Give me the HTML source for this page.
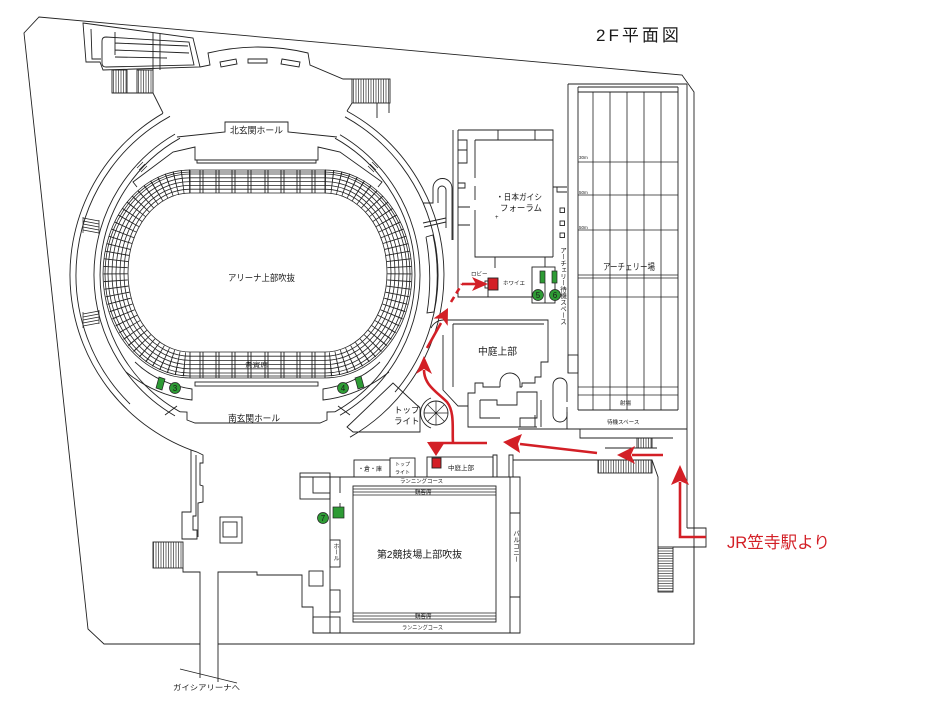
<!DOCTYPE html>
<html><head><meta charset="utf-8"><style>
html,body{margin:0;padding:0;background:#fff;width:950px;height:706px;overflow:hidden}
svg{display:block}
text{font-family:"Liberation Sans","Noto Sans CJK JP",sans-serif;fill:#1a1a1a;stroke:none}
</style></head><body>
<svg width="950" height="706" viewBox="0 0 950 706" xmlns="http://www.w3.org/2000/svg">
<defs>
<pattern id="vh" width="2.5" height="10" patternUnits="userSpaceOnUse"><line x1="1" y1="0" x2="1" y2="10" stroke="#333" stroke-width="0.7"/></pattern>
<pattern id="hh" width="10" height="2.5" patternUnits="userSpaceOnUse"><line x1="0" y1="1" x2="10" y2="1" stroke="#333" stroke-width="0.7"/></pattern>
</defs>
<g fill="none" stroke="#222" stroke-width="0.9">
<!-- site boundary -->
<path d="M218,644 L694,644 L694,92 L682,75 L39,17 L24,33 L88,629 L104,644 L200,644"/>

<!-- north complex -->
<path d="M83,23 L193,38 L200,67 L103,70 L100,62 L86,62 Z"/>
<path d="M91,29 L92,59 L101,59"/>
<path d="M106,37 L189,42 L194,65 L106,67 Q102,67 102,63 L102,41 Q102,37 106,37"/>
<path d="M115,32 L115,55 M153,33 L153,70 M160,34 L160,70 M115,43 L188,46 M115,50 L189,53 M115,57 L167,58"/>
<rect x="112" y="70" width="15" height="23" fill="url(#vh)"/>
<rect x="137" y="70" width="16" height="23" fill="url(#vh)"/>
<path d="M112,93 L153,93 L163,113"/>
<path d="M200,67 L210,65 L208,53 Q258,41 308,53 L310,65 L343,79 L352,79"/>
<path d="M220,62 L236,59 L237,64 L221,67 Z M248,59 L267,59 L267,63 L248,63 Z M282,59 L300,62 L299,67 L281,64 Z"/>
<rect x="352" y="79" width="38" height="24" fill="url(#vh)"/>
<path d="M377,103 L377,118 M389,103 L389,113 M347,111 L352,103"/>

<!-- arena rings -->
<path d="M347,111.1 A187,187 0 0 1 350,437.2"/>
<path d="M197,452.1 A187,187 0 0 1 163,113.3"/>
<path d="M130,404 A181,181 0 0 1 170,116.3"/>
<path d="M345,116.8 A181,181 0 0 1 395,392.1"/>
<path d="M175,415.9 A163,163 0 0 1 175,134.1"/>
<path d="M340,134.7 A163,163 0 0 1 340,415.3"/>
<path d="M180,411.8 A157,157 0 0 1 180,138.2"/>
<path d="M335,138.2 A157,157 0 0 1 335,411.8"/>
<!-- ring stairs -->
<g stroke-width="0.7">
<path d="M83,218 L99,221 M83,221 L99,224 M83,224 L99,227 M83,227 L99,230 M83,230 L99,233"/>
<path d="M83,314 L99,311 M83,317 L99,314 M83,320 L99,317 M83,323 L99,320 M83,326 L99,323"/>
<path d="M83,217 L83,233 M99,220 L99,234 M83,312 L83,328 M99,310 L99,324"/>
<path d="M137,168 L143,162 M139,170 L145,164 M141,172 L147,166"/>
<path d="M378,168 L372,162 M376,170 L370,164 M374,172 L368,166"/>
</g>
<path d="M426,237 L433,235 Q441,272 434,312 L427,313 Q433,276 426,237"/>

<!-- north hall -->
<path d="M177,137 L225,132 L225,122 L288,122 L288,132 L337,137"/>
<path d="M137,187 L133,182 L173,152 L195,147 L195,160 L318,160 L318,147 L340,152 L382,182 L378,187"/>
<path d="M197,160 L197,163 L316,163 L316,160"/>
<!-- south hall -->
<path d="M180,411.8 L187,412 L187,420 L195,423 L320,423 L327,420 L327,412 L335,411.8"/>
<path d="M165,415 L177,406 M350,415 L338,406"/>
<path d="M135,362 Q158,384 192,389 L192,400 Q156,396 126,372"/>
<path d="M380,362 Q357,384 323,389 L323,400 Q359,396 389,372"/>
<rect x="195" y="382" width="123" height="4"/>

<!-- seating -->
<g stroke-width="0.8">
<rect x="128" y="193" width="259" height="159" rx="62" ry="79"/>
<rect x="124" y="189.2" width="267" height="167" rx="66" ry="83"/>
<rect x="120" y="185.4" width="275" height="175" rx="70" ry="87"/>
<rect x="116" y="181.6" width="283" height="183" rx="74" ry="91"/>
<rect x="112" y="177.8" width="291" height="191" rx="78" ry="95"/>
<rect x="108" y="174" width="299" height="199" rx="82" ry="99"/>
<rect x="105" y="172" width="305" height="204" rx="85" ry="102"/>
<rect x="103" y="170" width="309" height="208" rx="87" ry="104"/>
</g>
<path d="M190,181.5 A74.5,91.5 0 0 0 190,364.5 M325,181.5 A74.5,91.5 0 0 1 325,364.5" stroke-width="24" stroke-dasharray="0.9 6" stroke="#222"/>
<path stroke-width="0.9" d="M190,170 V193 M325,170 V193 M190,352 V378 M325,352 V378
M200,170 V193 M203,170 V193 M216,170 V193 M219,170 V193 M232,170 V193 M235,170 V193 M248,170 V193 M251,170 V193 M265,170 V193 M268,170 V193 M281,170 V193 M284,170 V193 M297,170 V193 M300,170 V193 M312,170 V193 M315,170 V193
M200,352 V378 M203,352 V378 M216,352 V378 M219,352 V378 M232,352 V378 M235,352 V378 M248,352 V378 M251,352 V378 M265,352 V378 M268,352 V378 M281,352 V378 M284,352 V378 M297,352 V378 M300,352 V378 M312,352 V378 M315,352 V378"/>

<!-- top light pentagon + spiral -->
<path d="M347,427 L393,383 L420,408 L420,432 L353,432 Z"/>
<circle cx="436" cy="413" r="12"/>
<path stroke-width="0.7" d="M424,413 H448 M436,401 V425 M427.5,404.5 L444.5,421.5 M444.5,404.5 L427.5,421.5"/>
<path d="M431,398 A16,16 0 0 0 431,428"/>

<!-- east tube and walls -->
<path d="M423,203 L433,203 L433,188 A9.5,9.5 0 0 1 452,188 L452,240"/>
<path d="M438,203 L438,190 A4,4 0 0 1 446,190 L446,228"/>
<path d="M423,223 L446,218 M424,227 L446,222"/>
<path d="M453,130 L453,240"/>

<!-- forum building -->
<path d="M458,130 L553,130 L553,257 M458,130 L458,297 L532,297"/>
<path d="M475,140 L553,140 M498,130 V140 M535,130 V140"/>
<path d="M475,140 V178 M475,186 V200 M475,210 V257 L553,257 M495,257 V268 M545,257 V267 M488,278 V297"/>
<path d="M458,140 H467 V163 H458 M458,150 H467 M458,183 H465 V188 H458 M458,207 H470 M458,225 H470"/>
<rect x="532" y="267" width="23" height="36"/>
<path d="M545,283 V303"/>
<rect x="485" y="281" width="3" height="7"/>
<!-- strip between forum and archery -->
<path d="M553,187 L567,187 M557,187 V192 H567"/>
<rect x="560" y="208" width="4.5" height="4.5"/>
<rect x="560" y="221" width="4.5" height="4.5"/>
<rect x="560" y="233" width="4.5" height="4.5"/>

<!-- archery -->
<path d="M568,84 L687,84 M568,84 V373 M687,84 V528 M578,87 H678 M578,92 H678 M578,87 V410 M678,87 V410 M578,410 H678"/>
<path stroke-width="0.8" d="M593,92 V410 M610,92 V410 M627,92 V410 M644,92 V410 M661,92 V410 M578,162 H678 M578,195 H678 M578,230 H678 M578,275 H678 M578,278 H678 M578,297 H678 M578,387 H678 M578,395 H678"/>
<rect x="568" y="355" width="10" height="18"/>
<path d="M567,407 V429"/>
<path d="M518,429 H687 M580,429 V438 H673"/>

<!-- centre building -->
<path d="M443,320 L548,320 L548,362 L541,362 L541,377 L535,377 L535,383 L522,383 L522,387 M500,387 L483,387 L483,383 L475,383 L475,393 L468,393 L468,427 L537,427"/>
<path d="M453,324 L544,324 M453,324 V387 M443,335 V390 L458,406 L468,406"/>
<path d="M500,387 L500,383 A10,10 0 0 1 520,383 L520,387 L522,387"/>
<path d="M480,400 H497 V405 H517 V392 H537 V418 H520 V427 M480,400 V418 H500"/>
<path d="M431,328 A14,14 0 0 1 443,320"/>
<path d="M567,412 V415 A7,7 0 0 1 553,415 V385 A7,7 0 0 1 567,385 V402"/>
<path d="M535,415 V427 M541,400 V427"/>

<!-- road east -->
<path d="M513,460 H652 L658,477 V547 M673,547 H706 V528 H687 M694,547 V644"/>
<rect x="637" y="438" width="15" height="10" fill="url(#vh)"/>
<path d="M605,448 H657"/>
<rect x="598" y="460" width="54" height="13" fill="url(#vh)"/>
<rect x="658" y="547" width="15" height="45" fill="url(#hh)"/>
<path d="M493,455 V477 H497 V455 Z M509,455 V477 H513 V455 Z M513,460 V477"/>

<!-- 2nd hall -->
<path d="M300,477 L520,477 L520,633 L313,633"/>
<rect x="353" y="486" width="143" height="136"/>
<path stroke-width="0.8" d="M353,489 H496 M353,492 H496 M353,495 H496 M353,613 H496 M353,616 H496 M353,619 H496"/>
<path d="M510,477 V633 M510,513 H520 M510,597 H520"/>
<rect x="354" y="460" width="36" height="17"/>
<rect x="390" y="458" width="25" height="19"/>
<rect x="427" y="457" width="66" height="20"/>
<path d="M330,477 V633 M340,477 V493 M340,503 V507"/>
<rect x="330" y="540" width="10" height="27"/>
<rect x="330" y="590" width="10" height="22"/>
<rect x="313" y="617" width="27" height="16"/>
<rect x="300" y="473" width="30" height="26"/>
<rect x="313" y="477" width="17" height="16"/>
<path d="M280,575 H302 V607 H313 V633"/>

<!-- south-west area -->
<path d="M191,450 L191,512 L182,512 L182,539 L197,539 L197,530 L193,530 L193,516 L196,516 L196,455"/>
<path d="M197,452 L203,455 L203,463 L200,463 L200,485 L203,486 L203,502 L198,503 L198,537"/>
<rect x="153" y="542" width="30" height="26" fill="url(#vh)"/>
<path d="M183,568 V572 H200 V678 M218,682 V572 H257 V575 H302"/>
<path d="M180,669 L237,683"/>
<rect x="220" y="517" width="22" height="26"/>
<rect x="223" y="522" width="14" height="15"/>
<rect x="309" y="571" width="14" height="15"/>
</g>

<!-- red route -->
<g stroke="#d31f26" stroke-width="2.6" fill="none">
<path d="M706,537 L680,537 L680,482"/>
<path d="M663,455 L632,455"/>
<path d="M597,453 L520,444"/>
<path d="M487,443 L430,443"/>
<path d="M453,443 C452,430 455,412 447,402 C437,392 424,385 424,370"/>
<path d="M427,348 L441,323"/>
<path d="M451,302 L462,284" stroke-dasharray="6 4"/>
<path d="M462,284 L476,284"/>
</g>
<g fill="#d31f26" stroke="none">
<polygon points="680,465 671,485 680,481 689,485"/>
<polygon points="617,455 635,446 631,455 635,464"/>
<polygon points="503,442 522,434 518,444 520,453"/>
<polygon points="427,442 445,442 436,456"/>
<polygon points="424,356 416,374 424,369 432,374"/>
<polygon points="448,308 447.7,325.9 442.4,318.6 433.5,318.5"/>
<polygon points="488,284 472,277 476,284 472,291"/>
</g>
<rect x="488" y="278" width="10" height="12" fill="#d31f26" stroke="#222" stroke-width="0.9"/>
<rect x="432" y="458" width="9" height="10" fill="#d31f26" stroke="#222" stroke-width="0.9"/>

<!-- green markers -->
<g fill="#2e9b35" stroke="#222" stroke-width="0.7">
<rect x="540" y="271" width="5" height="12"/>
<rect x="552" y="271" width="5" height="12"/>
<rect x="333" y="507" width="11" height="11"/>
<polygon points="159,377 165,379 162,390 156,388"/>
<polygon points="355,378 361,376 364,387 358,389"/>
<circle cx="538" cy="295" r="5.5"/>
<circle cx="555" cy="295" r="5.5"/>
<circle cx="323" cy="518" r="5.5"/>
<circle cx="175" cy="388" r="5.5"/>
<circle cx="343" cy="388" r="5.5"/>
</g>
<g font-size="8" text-anchor="middle">
<text x="538" y="298">5</text><text x="555" y="298">6</text><text x="323" y="521">7</text><text x="175" y="391">3</text><text x="343" y="391">4</text>
</g>

<!-- labels -->
<text x="596" y="41" font-size="17" letter-spacing="3">2F平面図</text>
<text x="727" y="548" font-size="16.5" style="fill:#d31f26" textLength="103" lengthAdjust="spacingAndGlyphs">JR笠寺駅より</text>
<text x="228" y="281" font-size="9" textLength="67" lengthAdjust="spacingAndGlyphs">アリーナ上部吹抜</text>
<text x="230" y="133.5" font-size="9" textLength="53" lengthAdjust="spacingAndGlyphs">北玄関ホール</text>
<text x="228" y="421.5" font-size="9" textLength="52" lengthAdjust="spacingAndGlyphs">南玄関ホール</text>
<text x="245" y="367" font-size="6.5" textLength="23" lengthAdjust="spacingAndGlyphs">貴賓席</text>
<text x="478" y="355" font-size="10" textLength="39" lengthAdjust="spacingAndGlyphs">中庭上部</text>
<text x="496" y="200" font-size="8.5" textLength="46" lengthAdjust="spacingAndGlyphs">・日本ガイシ</text>
<text x="500" y="211" font-size="8.5" textLength="42" lengthAdjust="spacingAndGlyphs">フォーラム</text>
<text x="495" y="219" font-size="6">+</text>
<text x="471" y="276" font-size="5.5">ロビー</text>
<text x="503" y="285" font-size="5.5">ホワイエ</text>
<text x="603" y="270" font-size="9" textLength="52" lengthAdjust="spacingAndGlyphs">アーチェリー場</text>
<text x="579" y="159" font-size="4.5">30m</text>
<text x="579" y="194" font-size="4.5">50m</text>
<text x="579" y="229" font-size="4.5">50m</text>
<text x="620" y="405" font-size="5.5">射場</text>
<text x="607" y="424" font-size="5.5">待機スペース</text>
<text x="562" y="247" font-size="6.5" style="writing-mode:vertical-rl">アーチェリー待機スペース</text>
<text x="394" y="413" font-size="8.5">トップ</text>
<text x="394" y="424" font-size="8.5">ライト</text>
<text x="377" y="558" font-size="10" textLength="85" lengthAdjust="spacingAndGlyphs">第2競技場上部吹抜</text>
<text x="400" y="483" font-size="5.5" textLength="43" lengthAdjust="spacingAndGlyphs">ランニングコース</text>
<text x="415" y="494" font-size="5.5">観客席</text>
<text x="415" y="618" font-size="5.5">観客席</text>
<text x="402" y="629.5" font-size="5.5" textLength="41" lengthAdjust="spacingAndGlyphs">ランニングコース</text>
<text x="358" y="471" font-size="6">・倉・庫</text>
<text x="395" y="466" font-size="5">トップ</text>
<text x="395" y="474" font-size="5">ライト</text>
<text x="448" y="470" font-size="6.5">中庭上部</text>
<text x="335" y="543" font-size="6" style="writing-mode:vertical-rl">ホール</text>
<text x="515" y="530" font-size="6.5" style="writing-mode:vertical-rl">バルコニー</text>
<text x="173" y="690" font-size="7.5" textLength="67" lengthAdjust="spacingAndGlyphs">ガイシアリーナへ</text>
</svg>
</body></html>
